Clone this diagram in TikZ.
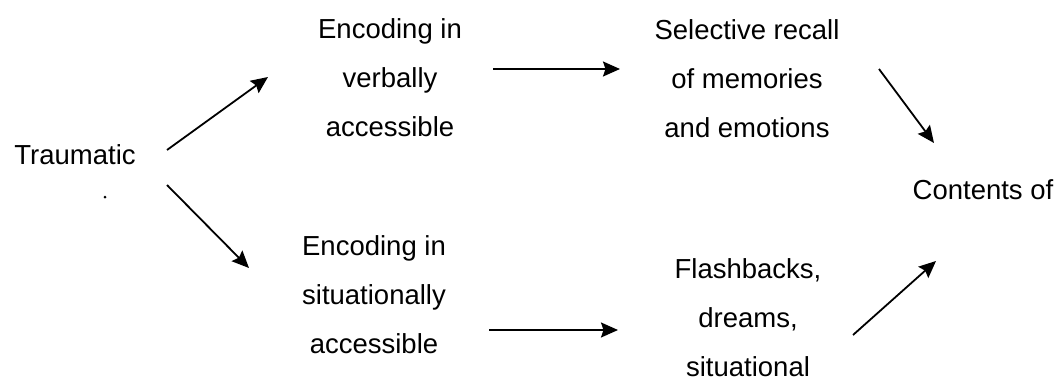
\documentclass[tikz,border=0pt]{standalone}
\usepackage{fontspec}
\setmainfont{Liberation Sans}
\usetikzlibrary{arrows.meta}
\begin{document}
\begin{tikzpicture}[x=1pt,y=-1pt,
  lbl/.style={font=\fontsize{27.5}{49}\selectfont, align=center, inner sep=0pt, anchor=base},
  arr/.style={line width=1.8pt, -{Stealth[length=17pt,width=15pt,inset=2.5pt]}}]
\useasboundingbox (0,0) rectangle (1061,380);
\node[lbl] (trauma) at (75,164) {Traumatic};
\node[lbl] (verbal) at (390,136) {Encoding in\\verbally\\accessible};
\node[lbl] (recall) at (747,137) {Selective recall\\of memories\\and emotions};
\node[lbl] (situ) at (374,353) {Encoding in\\situationally\\accessible};
\node[lbl] (flash) at (748,376) {Flashbacks,\\dreams,\\situational};
\node[lbl] (contents) at (983,199) {Contents of};
\fill (105,197) circle (1.5pt);
\coordinate (t1) at (167,150);
\coordinate (v1) at (268,77);
\coordinate (t2) at (167,185);
\coordinate (s1) at (249,268);
\coordinate (v2) at (493,69);
\coordinate (r1) at (620,69);
\coordinate (s2) at (489,330);
\coordinate (f1) at (618,330);
\coordinate (r2) at (879,69);
\coordinate (c1) at (934,143);
\coordinate (f2) at (853,335);
\coordinate (c2) at (936,261);
\draw[arr] (t1) -- (v1);
\draw[arr] (t2) -- (s1);
\draw[arr] (v2) -- (r1);
\draw[arr] (s2) -- (f1);
\draw[arr] (r2) -- (c1);
\draw[arr] (f2) -- (c2);
\end{tikzpicture}
\end{document}
